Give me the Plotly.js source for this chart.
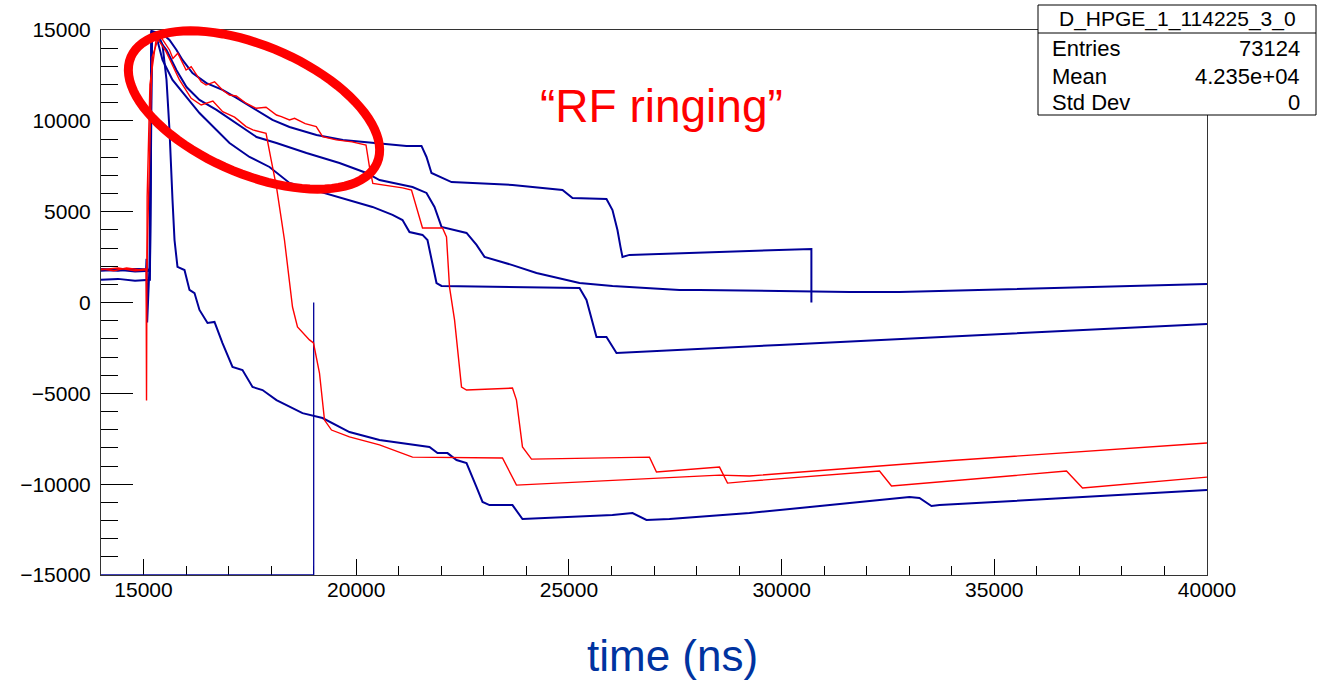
<!DOCTYPE html>
<html><head><meta charset="utf-8">
<script src="https://cdn.plot.ly/plotly-3.0.1.min.js"></script>
<style>html,body{margin:0;padding:0;background:#fff}#chart{width:1324px;height:680px}</style>
</head><body><div id="chart"></div>
<script>
// ---------- axis ticks ----------
const xTickVals = [15000, 20000, 25000, 30000, 35000, 40000];
const xTickText = ["15000", "20000", "25000", "30000", "35000", "40000"];
const yTickVals = [-15000, -10000, -5000, 0, 5000, 10000, 15000];
const yTickText = ["\u221215000", "\u221210000", "\u22125000", "0", "5000", "10000", "15000"];

// ---------- waveforms (time ns, amplitude) ----------
// red waveform 1 (ends near -7700)
const red1_t = [14000,14300,14600,14900,15060,15070,15085,15150,15305,15530,15845,16120,16355,16630,16860,17140,17220,17410,17570,17880,18000,18125,18243,18313,18502,18619,18901,18995,19136,19254,19419,19841,20547,21323,23438,23767,28540,29245,34000,40000];
const red1_v = [1850,1750,1900,1800,1850,-5400,5800,12000,14620,13810,12250,11240,10870,11090,10500,10200,10050,9680,9500,9310,7850,6360,4540,3440,-250,-1350,-2060,-2230,-3880,-6470,-7020,-7400,-7840,-8510,-8560,-10050,-9500,-9550,-8700,-7730];
// red waveform 2 (ends near -9600)
const red2_t = [14000,14400,14800,15080,15100,15200,15375,15610,15690,15805,16000,16120,16355,16470,16670,16856,17020,17180,17410,17650,17880,18125,18240,18430,18550,18800,19060,19210,19530,19900,20230,20310,20390,21088,21299,21417,21558,22028,22122,22193,22311,22475,22593,23673,23767,23908,24120,26894,27058,28540,28728,29245,32301,32583,36697,37073,40000];
const red2_v = [1800,1900,1750,1800,4000,13500,14730,13900,13430,13720,12800,12980,12150,11970,12150,11700,11420,11370,10970,10690,10750,10320,10230,10050,10140,9850,9680,9130,8950,8840,8670,7480,6560,6310,6190,5260,4100,4100,3610,850,-960,-4650,-4820,-4710,-5370,-7950,-8620,-8510,-9330,-9060,-9940,-9830,-9280,-10100,-9280,-10210,-9610];
// blue waveform A (ends near 1000)
const blueA_t = [14000,14400,14800,15060,15150,15187,15305,15540,15775,16010,16315,16715,17185,17656,18125,18831,19606,20241,20547,21323,21652,21840,22005,22122,22593,22828,23016,23673,24238,25249,26024,27599,28069,31596,32770,40000];
const blueA_v = [1800,1750,1850,1800,1800,14900,14620,13900,12790,11860,11150,10600,9880,9110,8780,8230,7680,7130,6740,6360,6030,5260,4160,4100,3830,3170,2510,2060,1620,1070,910,690,690,580,580,1020];
// blue waveform B (ends near -1200)
const blueB_t = [14000,14400,14800,15060,15150,15200,15305,15446,15681,16010,16315,16715,17021,17491,17961,18431,18831,19606,20382,20853,21088,21252,21558,21675,21769,21887,22005,23673,25249,25413,25531,25648,25883,26118,29950,40000];
const blueB_v = [1750,1800,1700,1750,1750,14900,14620,13350,12250,11310,10430,9500,8780,8010,7460,6580,6310,5810,5260,4820,4540,3880,3720,3440,2340,1070,910,850,800,140,-960,-1900,-1900,-2780,-2340,-1180];
// blue waveform C (fast fall, ends near -10300)
const blueC_t = [14000,14400,14800,15060,15070,15085,15140,15187,15328,15446,15540,15610,15681,15728,15798,15963,16080,16198,16315,16504,16668,16856,17091,17326,17562,17797,18125,18431,18737,19207,19841,20547,21722,21911,22146,22358,22593,22828,22969,23133,23673,23908,26024,26494,26823,27364,29245,33006,33241,33523,33711,40000];
const blueC_v = [1850,1800,1850,1800,2400,-1100,2000,14950,14840,14180,12250,9500,5640,3440,1960,1790,690,520,-410,-1130,-1070,-2230,-3550,-3720,-4650,-4820,-5370,-5750,-6090,-6360,-7130,-7570,-7950,-8290,-8290,-8670,-8840,-10160,-10980,-11150,-11150,-11920,-11700,-11590,-11970,-11920,-11590,-10710,-10760,-11200,-11150,-10320];
// blue waveform D (top one, stops at 30700)
const blueD_t = [14000,14400,14800,15060,15150,15187,15422,15610,15775,15916,16151,16480,16856,17185,17656,18031,18431,19066,19688,20382,21182,21534,21652,21769,22240,23673,24849,25084,25883,26024,26141,26212,26259,26423,30700,30700];
const blueD_v = [1250,1300,1200,1250,1250,14900,14840,14450,13900,13350,12630,12080,11700,11260,10600,10050,9660,9220,8950,8780,8620,8620,8010,7130,6630,6470,6190,5750,5700,5090,3990,3060,2510,2620,2950,0];
// blue waveform E (below range until 19000)
const blueE_t = [14000, 19000, 19000];
const blueE_v = [-15000, -15000, 0];

// ---------- stats box text ----------
const statsTitle = "D_HPGE_1_114225_3_0";
const statsLabels = ["Entries", "Mean", "Std Dev"];
const statsValues = ["73124", "4.235e+04", "0"];

// ---------- layout geometry ----------
const L = 101, T = 30, W = 1106, H = 545;
const px = x => (x - L) / W;
const py = y => (T + H - y) / H;

const BLUE = '#000099', RED = '#ff0000';
function tr(t, v, color, width) {
  return {x: t, y: v, type: 'scatter', mode: 'lines', line: {color: color, width: width, shape: 'linear'}, hoverinfo: 'skip', showlegend: false};
}
const traces = [
  tr(blueE_t, blueE_v, BLUE, 1.3),
  tr(blueD_t, blueD_v, BLUE, 2),
  tr(blueA_t, blueA_v, BLUE, 2),
  tr(blueB_t, blueB_v, BLUE, 2),
  tr(blueC_t, blueC_v, BLUE, 2),
  tr(red1_t, red1_v, RED, 1.4),
  tr(red2_t, red2_v, RED, 1.4)
];

// ellipse highlighting the ringing region (screen-pixel geometry)
let d = '';
const cx = 254, cy = 110, ea = 134, eb = 64, th = 23.3 * Math.PI / 180;
for (let i = 0; i <= 90; i++) {
  const a = i / 90 * 2 * Math.PI;
  const x = cx + ea * Math.cos(a) * Math.cos(th) - eb * Math.sin(a) * Math.sin(th);
  const y = cy + ea * Math.cos(a) * Math.sin(th) + eb * Math.sin(a) * Math.cos(th);
  d += (i ? 'L' : 'M') + px(x).toFixed(5) + ',' + py(y).toFixed(5);
}
d += 'Z';

const FONT = 'Liberation Sans, Arial, Helvetica, sans-serif';
const bx0 = 1038, bx1 = 1316, by0 = 5, by1 = 115, bdiv = 33;
const rowsY = [49, 76, 103];

const annotations = [
  {text: '\u201cRF ringing\u201d', x: px(661), y: py(106), xref: 'paper', yref: 'paper', xanchor: 'center', yanchor: 'middle', showarrow: false, font: {family: FONT, size: 46, color: RED}},
  {text: 'time (ns)', x: px(672), y: py(655), xref: 'paper', yref: 'paper', xanchor: 'center', yanchor: 'middle', showarrow: false, font: {family: FONT, size: 44, color: '#0033a0'}},
  {text: statsTitle, x: px((bx0 + bx1) / 2), y: py(19), xref: 'paper', yref: 'paper', xanchor: 'center', yanchor: 'middle', showarrow: false, font: {family: FONT, size: 21, color: '#000'}}
];
statsLabels.forEach((lab, i) => {
  annotations.push({text: lab, x: px(1050), y: py(rowsY[i]), xref: 'paper', yref: 'paper', xanchor: 'left', yanchor: 'middle', showarrow: false, font: {family: FONT, size: 22, color: '#000'}});
  annotations.push({text: statsValues[i], x: px(1302), y: py(rowsY[i]), xref: 'paper', yref: 'paper', xanchor: 'right', yanchor: 'middle', showarrow: false, font: {family: FONT, size: 22, color: '#000'}});
});

const shapes = [
  {type: 'path', path: d, xref: 'paper', yref: 'paper', line: {color: RED, width: 9}, fillcolor: 'rgba(0,0,0,0)', layer: 'above'},
  {type: 'rect', x0: px(bx0), x1: px(bx1), y0: py(by1), y1: py(by0), xref: 'paper', yref: 'paper', line: {color: '#000', width: 1}, fillcolor: '#fff', layer: 'above'},
  {type: 'line', x0: px(bx0), x1: px(bx1), y0: py(bdiv), y1: py(bdiv), xref: 'paper', yref: 'paper', line: {color: '#000', width: 1}, layer: 'above'}
];

const layout = {
  width: 1324, height: 680,
  margin: {l: L, r: 1324 - L - W, t: T, b: 680 - T - H, pad: 0},
  paper_bgcolor: '#fff', plot_bgcolor: '#fff',
  showlegend: false,
  xaxis: {
    range: [14000, 40000], showgrid: false, zeroline: false,
    showline: true, mirror: true, linecolor: '#333', linewidth: 1, layer: 'below traces',
    tickmode: 'array', tickvals: xTickVals, ticktext: xTickText,
    ticks: 'inside', ticklen: 16, tickwidth: 1, tickcolor: '#000',
    ticklabelstandoff: -4,
    minor: {tickmode: 'linear', tick0: 14000, dtick: 1000, ticks: 'inside', ticklen: 9, tickwidth: 1, tickcolor: '#000'},
    tickfont: {family: FONT, size: 21, color: '#000'}
  },
  yaxis: {
    range: [-15000, 15000], showgrid: false, zeroline: false,
    showline: true, mirror: true, linecolor: '#333', linewidth: 1, layer: 'below traces',
    tickmode: 'array', tickvals: yTickVals, ticktext: yTickText,
    ticks: 'inside', ticklen: 32, tickwidth: 1, tickcolor: '#000',
    ticklabelstandoff: 5,
    minor: {tickmode: 'linear', tick0: -15000, dtick: 1000, ticks: 'inside', ticklen: 17, tickwidth: 1, tickcolor: '#000'},
    tickfont: {family: FONT, size: 21, color: '#000'}
  },
  annotations: annotations,
  shapes: shapes
};

Plotly.newPlot('chart', traces, layout, {displayModeBar: false, staticPlot: true});
</script>
</body></html>
